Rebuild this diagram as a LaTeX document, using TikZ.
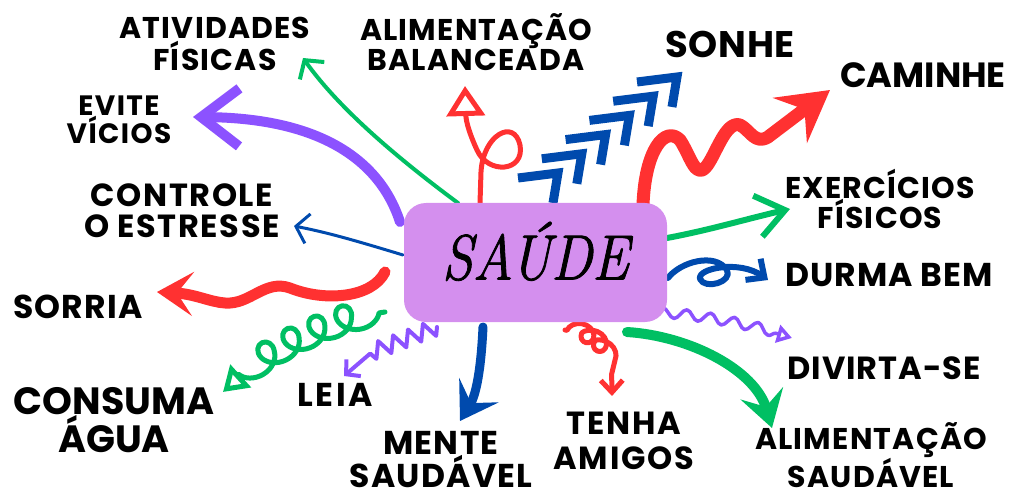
\documentclass[tikz,border=0pt]{standalone}
\usepackage{fontspec}
\newfontfamily\labfont{Poppins}
\newfontfamily\saudefont{Latin Modern Roman}[FakeStretch=0.87, FakeBold=1.3]
\usetikzlibrary{arrows.meta,decorations.pathmorphing,backgrounds}
\definecolor{cred}{HTML}{FF3131}
\definecolor{cblue}{HTML}{004AAD}
\definecolor{cgreen}{HTML}{00BF63}
\definecolor{cpurple}{HTML}{8C52FF}
\definecolor{boxc}{HTML}{D48FEE}
\tikzset{
  lab/.style n args={3}{font=\labfont\bfseries\fontsize{#1}{#2}\selectfont\addfontfeature{LetterSpace=#3},
    align=center, inner sep=0pt, text=black},
  conn/.style={line cap=round, line join=round},
  chevron/.style={cblue, line width=9, line join=miter},
  mainbox/.style={fill=boxc, rounded corners=22pt, minimum width=263pt, minimum height=119pt, inner sep=0pt,
    font=\saudefont\itshape\fontsize{64}{64}\selectfont, text height=44pt, text depth=10pt},
}
\begin{document}
\begin{tikzpicture}[x=1pt,y=-1pt]
\useasboundingbox (0,0) rectangle (1010,500);

% central node
\node[mainbox] (box) at (535.5,262.5) {SAÚDE};

% labels
\node[lab={30}{32}{4}] (ati) at (215,44) {ATIVIDADES\\FÍSICAS};
\node[lab={30}{30}{4}] (alb) at (476,42) {ALIMENTAÇÃO\\BALANCEADA};
\node[lab={37}{37}{2}] (son) at (730,44) {SONHE};
\node[lab={35}{35}{0}] (cam) at (923,75) {CAMINHE};
\node[lab={30}{30}{4}] (exe) at (880,199) {EXERCÍCIOS\\FÍSICOS};
\node[lab={33}{33}{3}] (dur) at (889,275) {DURMA BEM};
\node[lab={32}{32}{3}] (div) at (884,368) {DIVIRTA-SE};
\node[lab={30}{30}{4}] (als) at (871,455) {ALIMENTAÇÃO\\SAUDÁVEL};
\node[lab={32}{35}{6}] (ten) at (624,441) {TENHA\\AMIGOS};
\node[lab={33}{33}{4}] (men) at (441,460) {MENTE\\SAUDÁVEL};
\node[lab={33}{33}{8}] (lei) at (335,395) {LEIA};
\node[lab={38}{38}{0}] (agu) at (114,420) {CONSUMA\\ÁGUA};
\node[lab={33}{33}{4}] (sor) at (78,307) {SORRIA};
\node[lab={32}{31}{5}] (cst) at (182,211) {CONTROLE\\O ESTRESSE};
\node[lab={28}{28}{5}] (evi) at (119,120) {EVITE\\VÍCIOS};

% connector end points
\coordinate (sAti) at (458,203); \coordinate (tAti) at (303,58);
\coordinate (sEvi) at (400,222); \coordinate (tEvi) at (193,117);
\coordinate (sCon) at (403,255); \coordinate (tCon) at (294,226);
\coordinate (sSor) at (385,272); \coordinate (tSor) at (157,292);
\coordinate (sAgu) at (385,312); \coordinate (tAgu) at (223,392);
\coordinate (sLei) at (437,327); \coordinate (tLei) at (344,376);
\coordinate (sMen) at (483,327); \coordinate (tMen) at (460,421);
\coordinate (sTen) at (565,330); \coordinate (tTen) at (612,396);
\coordinate (sAlS) at (627,332); \coordinate (tAlS) at (772,428);
\coordinate (sDiv) at (655,312); \coordinate (tDiv) at (792,338);
\coordinate (sDur) at (668,278); \coordinate (tDur) at (768,280);
\coordinate (sExe) at (667,238); \coordinate (tExe) at (790,209);
\coordinate (sCam) at (643,205); \coordinate (tCam) at (830,90);
\coordinate (sAlB) at (480,203); \coordinate (tAlB) at (465,86);

\begin{scope}[on background layer]
% atividades fisicas
\draw[conn, cgreen, line width=4, -{Straight Barb[length=13,width=30]}]
  (sAti) .. controls (400,160) and (340,110) .. (tAti);
% evite vicios
\draw[conn, cpurple, line width=10, -{Straight Barb[length=38,width=58]}]
  (sEvi) .. controls (380,160) and (320,118) .. (tEvi);
% controle o estresse
\draw[conn, cblue, line width=3, -{Straight Barb[length=12,width=30]}]
  (sCon) .. controls (360,242) and (330,233) .. (tCon);
% sorria
\draw[conn, cred, line width=11, -{Stealth[length=36,width=44,inset=16]}]
  (sSor) .. controls (372,298) and (325,302) .. (290,288)
  .. controls (265,279) and (250,305) .. (225,303)
  .. controls (210,302) and (195,294) .. (tSor);
% consuma agua
\draw[conn, cgreen, line width=5, decorate,
  decoration={coil, amplitude=13pt, segment length=28pt, aspect=1.1, pre length=6pt, post length=22pt},
  -{Triangle[open,length=24,width=30]}]
  (sAgu) .. controls (340,318) and (270,345) .. (tAgu);
% leia
\draw[conn, cpurple, line width=4, decorate,
  decoration={zigzag, amplitude=8pt, segment length=16pt, post length=30pt},
  -{Straight Barb[length=10,width=22]}]
  (sLei) -- (372,352) -- (tLei);
% mente saudavel
\draw[conn, cblue, line width=9, -{Stealth[length=36,width=46,inset=15]}]
  (sMen) .. controls (481,370) and (476,395) .. (tMen);
% tenha amigos
\draw[conn, cred, line width=5, decorate,
  decoration={coil, amplitude=9pt, segment length=15pt, aspect=1.1, pre length=2pt, post length=22pt},
  -{Straight Barb[length=12,width=22]}]
  (sTen) .. controls (600,335) and (616,362) .. (tTen);
% alimentacao saudavel
\draw[conn, cgreen, line width=10, -{Stealth[length=36,width=44,inset=14]}]
  (sAlS) .. controls (690,336) and (755,370) .. (tAlS);
% divirta-se
\draw[conn, cpurple, line width=3.5, decorate,
  decoration={snake, amplitude=5pt, segment length=24pt, post length=16pt},
  -{Triangle[open,length=15,width=18]}]
  (sDiv) .. controls (700,315) and (750,325) .. (tDiv);
% durma bem
\draw[conn, cblue, line width=6, -{Straight Barb[length=14,width=26]}]
  (sDur) .. controls (680,262) and (715,252) .. (727,270)
  .. controls (733,282) and (705,290) .. (700,279)
  .. controls (697,268) and (740,260) .. (tDur);
% exercicios fisicos
\draw[conn, cgreen, line width=6, -{Straight Barb[length=28,width=42]}]
  (sExe) .. controls (710,230) and (750,218) .. (tExe);
% caminhe
\draw[conn, cred, line width=13, -{Stealth[length=50,width=56,inset=18]}]
  (sCam) .. controls (645,150) and (665,125) .. (680,140)
  .. controls (690,155) and (695,178) .. (705,168)
  .. controls (715,158) and (725,120) .. (740,125)
  .. controls (750,130) and (755,145) .. (768,137) -- (tCam);
% sonhe (chevrons)
\foreach \i in {0,...,5}
  \draw[chevron]
    (558+\i*23.8, 173-\i*19.2) +(-40,5) -- +(0,0) -- +(-5,30);
% alimentacao balanceada
\draw[conn, cred, line width=5, -{Triangle[open,length=30,width=38]}]
  (sAlB) -- (481,172) .. controls (483,135) and (514,118) .. (520,145)
  .. controls (525,172) and (488,175) .. (477,150)
  .. controls (470,135) and (466,122) .. (tAlB);
\end{scope}
\end{tikzpicture}
\end{document}
